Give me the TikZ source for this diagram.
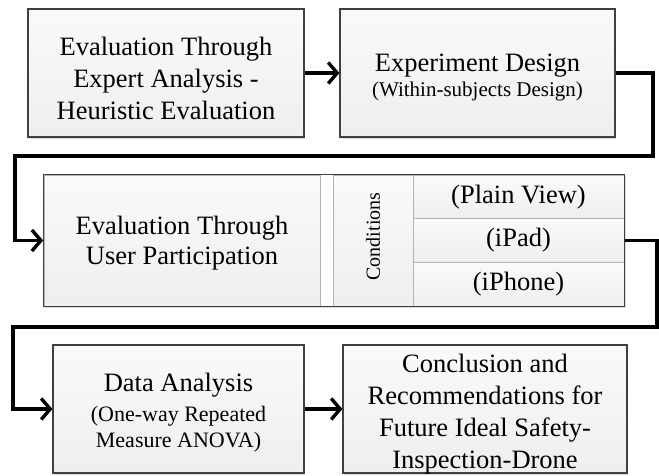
\documentclass[tikz,border=0pt]{standalone}
\usepackage{fontspec}
\setmainfont{Liberation Serif}
\usetikzlibrary{arrows.meta,shadows,fit,backgrounds}
\tikzset{
  boxshade/.style={top color=gray!4, bottom color=gray!13},
  shadowed/.style={drop shadow={shadow xshift=1.2pt, shadow yshift=-1.6pt, opacity=0.3}},
  flowbox/.style={draw=black!75, line width=1.1pt, boxshade, shadowed, inner sep=0pt},
  partbox/.style={draw=black!30, line width=0.6pt, boxshade, inner sep=0pt},
  txt/.style={align=center, inner sep=0pt, font=\fontsize{26.5}{32}\selectfont},
  conn/.style={line width=3.4pt, -{Straight Barb[length=9pt,width=21pt]}},
}
\begin{document}
\begin{tikzpicture}[x=1pt,y=-1pt]
\useasboundingbox (0,0) rectangle (659,476);

% top row
\node[flowbox, minimum width=276pt, minimum height=128pt] (b1) at (166,73) {};
\node[txt] (b1text) at ([yshift=-5pt]b1.center)
  {Evaluation Through\\Expert Analysis -\\Heuristic Evaluation};
\node[flowbox, minimum width=275pt, minimum height=128pt] (b2) at (477.5,73) {};
\node[txt] (b2text) at ([yshift=-4.5pt]b2.center)
  {Experiment Design\\[-7pt]{\fontsize{21}{25}\selectfont (Within-subjects Design)}};

% middle compound box
\node[partbox, minimum width=276pt, minimum height=131pt] (b3main) at (182,240.5) {};
\node[txt] (b3text) at ([yshift=-3pt]b3main.center)
  {Evaluation Through\\[-2pt]User Participation};
\node[partbox, minimum width=80pt, minimum height=131pt] (cond) at (373,240.5) {};
\node[rotate=90, font=\fontsize{20}{20}\selectfont, inner sep=0pt] (condtext) at ([yshift=4pt]cond.center) {Conditions};
\node[partbox, txt, minimum width=211pt, minimum height=43.67pt] (pv) at (518.5,196.83) {(Plain View)};
\node[partbox, txt, minimum width=211pt, minimum height=43.67pt] (ipad) at (518.5,240.5) {(iPad)};
\node[partbox, txt, minimum width=211pt, minimum height=43.67pt] (iphone) at (518.5,284.17) {(iPhone)};
\begin{scope}[on background layer]
  \node[fit=(b3main)(pv)(iphone), inner sep=0pt, fill=white, shadowed] (b3bg) {};
\end{scope}
\node[fit=(b3main)(pv)(iphone), inner sep=0pt, draw=black!75, line width=1.1pt] (b3) {};

% bottom row
\node[flowbox, minimum width=251pt, minimum height=128pt] (b4) at (178.5,409) {};
\node[txt] (b4text) at ([yshift=-4pt]b4.center)
  {Data Analysis\\[-2pt]{\fontsize{22}{26}\selectfont (One-way Repeated}\\[-6pt]{\fontsize{22}{26}\selectfont Measure ANOVA)}};
\node[flowbox, minimum width=284pt, minimum height=128pt] (b5) at (485,409) {};
\node[txt] (b5text) at ([yshift=-5pt]b5.center)
  {Conclusion and\\Recommendations for\\Future Ideal Safety-\\Inspection-Drone};

% bend points
\coordinate (r1) at (653,0);
\coordinate (m1) at (0,156);
\coordinate (l1) at (15,0);
\coordinate (r2) at (657,0);
\coordinate (m2) at (0,327);
\coordinate (l2) at (13,0);

% connectors
\draw[conn] (b1.east) -- (b2.west);
\draw[conn] (b2.east) -- (b2.east -| r1) -- (r1 |- m1) -- (l1 |- m1) -- (l1 |- b3.west) -- (b3.west);
\draw[conn] (b3.east) -- (b3.east -| r2) -- (r2 |- m2) -- (l2 |- m2) -- (l2 |- b4.west) -- (b4.west);
\draw[conn] (b4.east) -- (b5.west);
\end{tikzpicture}
\end{document}
